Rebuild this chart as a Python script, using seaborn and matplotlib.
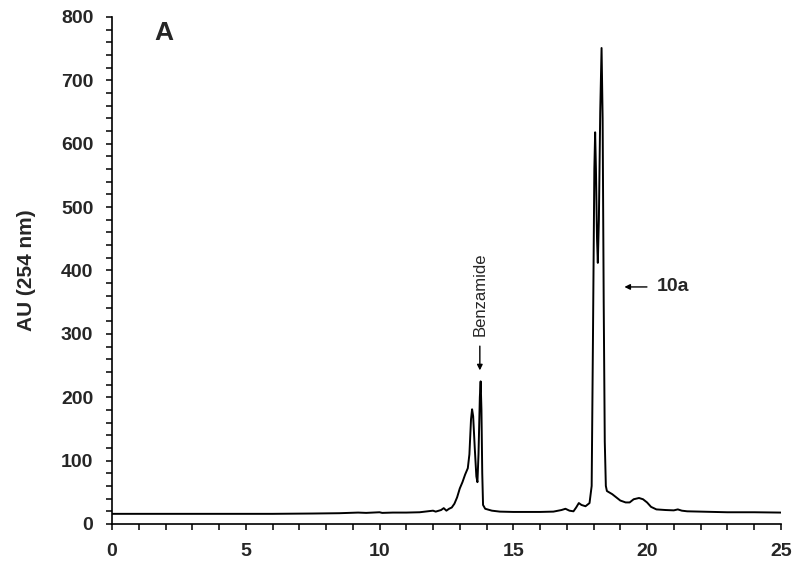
import seaborn as sns
import matplotlib
matplotlib.use("Agg")
import matplotlib.pyplot as plt
from matplotlib.ticker import MultipleLocator
import pandas as pd

# chromatogram (time in min, absorbance AU)
time = [0, 2, 4, 6, 7.5, 8.5, 9.2, 9.5, 10.0, 10.1, 10.5, 11.0, 11.5, 11.8, 12.0,
        12.1, 12.3, 12.4, 12.5, 12.6, 12.7, 12.8, 12.9, 13.0, 13.1, 13.2, 13.3,
        13.36, 13.42, 13.46, 13.5, 13.56, 13.62, 13.66, 13.7, 13.75, 13.78, 13.81,
        13.84, 13.87, 13.95, 14.2, 14.5, 15.0, 15.5, 16.0, 16.5, 16.8, 16.95, 17.1,
        17.25, 17.35, 17.45, 17.55, 17.7, 17.85, 17.93, 17.98, 18.03, 18.06, 18.09,
        18.13, 18.16, 18.2, 18.25, 18.3, 18.34, 18.38, 18.42, 18.46, 18.5, 18.7,
        18.85, 19.0, 19.2, 19.35, 19.5, 19.7, 19.85, 20.0, 20.15, 20.35, 20.7, 21.0,
        21.15, 21.3, 21.5, 22, 23, 24, 25]
au = [16, 16, 16, 16, 16.5, 17, 18, 17.5, 18.5, 17.5, 18, 18, 18.5, 20, 21,
      19.5, 22, 25, 21, 24, 26, 32, 42, 56, 66, 78, 88,
      110, 165, 181, 170, 120, 75, 66, 110, 200, 225, 180,
      80, 30, 24, 21, 19.5, 19, 19, 19, 19.5, 22, 24, 21,
      20, 26, 33, 30, 28, 33, 60, 300, 560, 618, 560,
      450, 412, 480, 650, 751, 640, 350, 130, 60, 52, 47,
      42, 37, 34, 34, 39, 41, 39, 34, 27, 23, 22, 21.5,
      23, 21, 20, 19.5, 18.5, 18.5, 18]

df = pd.DataFrame({"time": time, "au": au})

sns.set_style("ticks")
plt.rcParams['font.family'] = ['Liberation Sans', 'DejaVu Sans']

fig = plt.figure(figsize=(8, 5.65), dpi=100)
ax = fig.add_axes([0.14, 0.0726, 0.836, 0.8974])

sns.lineplot(data=df, x="time", y="au", color='black', linewidth=1.4, ax=ax)

ax.set_xlim(0, 25)
ax.set_ylim(0, 800)
ax.xaxis.set_major_locator(MultipleLocator(5))
ax.xaxis.set_minor_locator(MultipleLocator(1))
ax.yaxis.set_major_locator(MultipleLocator(100))
ax.yaxis.set_minor_locator(MultipleLocator(20))
ax.tick_params(which='both', direction='out', length=4.5, width=1.1, color='black')
ax.tick_params(which='major', labelsize=14, pad=9)
for lab in ax.get_xticklabels() + ax.get_yticklabels():
    lab.set_fontweight('bold')
for s in ['left', 'bottom']:
    ax.spines[s].set_linewidth(1.2)
    ax.spines[s].set_color('black')
sns.despine(ax=ax)

ax.set_xlabel("")
ax.set_ylabel("AU (254 nm)", fontsize=15, fontweight='bold', labelpad=18)

ax.text(1.95, 775, "A", fontsize=19, fontweight='bold', ha='center', va='center')

# annotations
ax.annotate("", xy=(13.75, 238), xytext=(13.75, 285),
            arrowprops=dict(arrowstyle='-|>', color='black', lw=1.0, mutation_scale=8))
ax.text(13.75, 297, "Benzamide", rotation=90, fontsize=12, ha='center', va='bottom')
ax.annotate("", xy=(19.05, 374), xytext=(20.1, 374),
            arrowprops=dict(arrowstyle='-|>', color='black', lw=1.0, mutation_scale=8))
ax.text(20.35, 374, "10a", fontsize=14, fontweight='bold', ha='left', va='center')

fig.savefig("out.png", dpi=100)
